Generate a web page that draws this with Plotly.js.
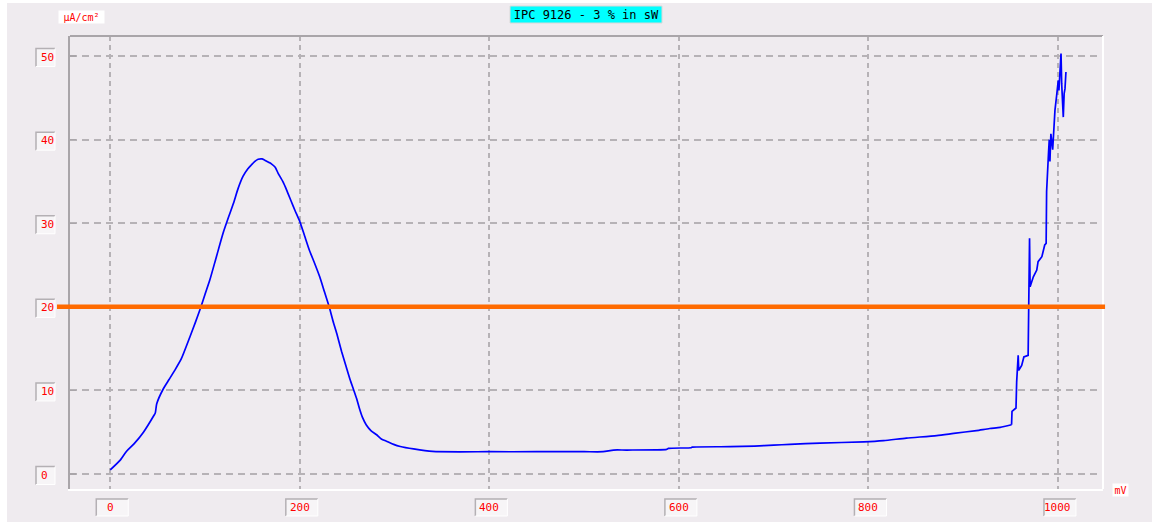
<!DOCTYPE html>
<html>
<head>
<meta charset="utf-8">
<script src="https://cdn.plot.ly/plotly-3.0.1.min.js"></script>
<style>html,body{margin:0;padding:0;background:#ffffff;}#chart{width:1165px;height:522px;}</style>
</head>
<body>
<div id="chart"></div>
<script>
// ---- data ----
// smooth part of the polarisation curve
const potentialMV = [0, 10, 17, 25, 35, 46, 47.5, 49, 56, 62, 68, 75, 84, 90, 95.7, 100, 105, 112, 119, 125, 130, 135, 140, 145, 149, 152, 156, 160, 163, 167, 170, 174, 177, 182, 186, 191, 195, 200, 205, 210, 216, 221, 226, 231, 235, 239, 244, 249, 253, 257, 260, 263, 266, 270, 275, 281, 286, 292, 299, 306, 320, 340, 400, 450, 500, 520, 531, 545, 587, 589, 613, 614, 654, 680, 700, 717, 749, 795, 816, 840, 872, 890, 914, 928, 939, 951];
const currentDensity = [0.5, 1.6, 2.7, 3.6, 5.0, 7.0, 7.3, 8.4, 10.2, 11.3, 12.4, 13.8, 16.4, 18.2, 20.0, 21.5, 23.2, 26.0, 28.8, 30.8, 32.4, 34.2, 35.6, 36.5, 37.0, 37.35, 37.65, 37.7, 37.55, 37.3, 37.1, 36.7, 36.0, 35.0, 34.0, 32.6, 31.5, 30.2, 28.5, 26.8, 25.1, 23.6, 21.8, 20.0, 18.3, 16.8, 14.7, 12.8, 11.3, 10.0, 9.0, 7.8, 6.8, 5.9, 5.2, 4.7, 4.2, 3.9, 3.55, 3.3, 3.0, 2.7, 2.67, 2.67, 2.67, 2.67, 2.87, 2.87, 2.95, 3.07, 3.15, 3.22, 3.27, 3.35, 3.45, 3.55, 3.7, 3.85, 4.0, 4.3, 4.6, 4.86, 5.2, 5.45, 5.58, 5.9];
// breakdown (pitting) part
const breakdownMV = [951, 951.5, 955.7, 956.4, 958, 958.6, 961.7, 964, 968.5, 969, 970, 970.6, 974, 977.6, 979, 983, 986, 987.5, 988, 990, 990.8, 991.5, 992.5, 994.4, 995.5, 996.8, 998.6, 1000.3, 1001, 1002, 1003.2, 1003.9, 1004.8, 1005.6, 1006.5, 1007.4, 1008.4];
const breakdownCurrent = [5.9, 7.5, 7.9, 11.0, 14.2, 12.4, 13.0, 14.0, 14.2, 22.2, 28.2, 22.4, 23.6, 24.4, 25.4, 26.0, 27.4, 27.6, 33.8, 38.4, 40.0, 37.4, 40.7, 38.8, 41.5, 43.5, 45.3, 47.1, 45.9, 48.0, 50.3, 46.7, 45.0, 42.7, 45.5, 46.1, 48.1];
const limitValue = 20;
const xTickVals = [0, 200, 400, 600, 800, 1000];
const xTickText = ['0', '200', '400', '600', '800', '1000'];
const yTickVals = [0, 10, 20, 30, 40, 50];
const yTickText = ['0', '10', '20', '30', '40', '50'];
const chartTitle = 'IPC 9126 - 3 % in sW';
const yUnit = 'µA/cm²';
const xUnit = 'mV';

// ---- styling ----
const BG = '#efebef';
const GRID = '#b6b2b6';
const AXIS = '#a9a5a9';
const RED = '#ff0000';
const MONO = 'DejaVu Sans Mono, monospace';

const shapes = [];
shapes.push({type:'rect', layer:'below', xref:'paper', yref:'paper', xsizemode:'pixel', ysizemode:'pixel',
  xanchor:0, yanchor:0, x0:-63, x1:1082, y0:-33, y1:486, fillcolor:BG, line:{width:0}});
shapes.push({type:'rect', layer:'below', xref:'paper', yref:'paper', xsizemode:'pixel', ysizemode:'pixel',
  xanchor:0, yanchor:1, x0:440, x1:592, y0:13, y1:30, fillcolor:'#00ffff', line:{color:'#d8d8d8', width:1}});
shapes.push({type:'line', layer:'above', xref:'paper', yref:'paper', x0:0, x1:1, y0:1, y1:1, line:{color:AXIS, width:2}});
shapes.push({type:'line', layer:'above', xref:'paper', yref:'paper', x0:1, x1:1, y0:0, y1:1, line:{color:'#ffffff', width:2}});

function labelBox(common, x0, x1, y0, y1) {
  shapes.push(Object.assign({type:'rect', layer:'below', x0:x0, x1:x1, y0:y0, y1:y1, fillcolor:'#f7f5f7', line:{width:0}}, common));
  shapes.push(Object.assign({type:'path', layer:'below', path:`M${x0},${y0} L${x0},${y1} L${x1},${y1}`, line:{color:'#b4b0b4', width:1.5}}, common));
  shapes.push(Object.assign({type:'path', layer:'below', path:`M${x0},${y0} L${x1},${y0} L${x1},${y1}`, line:{color:'#ffffff', width:1}}, common));
}

const annotations = [];
xTickVals.forEach((v, i) => {
  labelBox({xref:'x', yref:'paper', xsizemode:'pixel', ysizemode:'pixel', xanchor:v, yanchor:0}, -14, 18, -27, -10);
  annotations.push({xref:'x', yref:'paper', x:v, y:0, xanchor:'center', yanchor:'middle', yshift:-18.5, showarrow:false,
    text:xTickText[i], font:{family:MONO, size:11, color:RED}});
});
yTickVals.forEach((v, i) => {
  labelBox({xref:'paper', yref:'y', xsizemode:'pixel', ysizemode:'pixel', xanchor:0, yanchor:v}, -34, -15, -10.5, 7.5);
  annotations.push({xref:'paper', yref:'y', x:0, y:v, xanchor:'left', yanchor:'middle', xshift:-31, yshift:-1, showarrow:false,
    text:yTickText[i], font:{family:MONO, size:11, color:RED}});
});
shapes.push({type:'line', layer:'above', xref:'paper', yref:'y', x0:-0.0126, x1:1.002, y0:limitValue, y1:limitValue,
  line:{color:'#ff6a00', width:4.5}});

annotations.push({xref:'paper', yref:'paper', x:0, y:1, xshift:11.5, yshift:19, xanchor:'center', yanchor:'middle', showarrow:false,
  text:yUnit, width:45, height:12, bgcolor:'#ffffff', borderpad:0, font:{family:MONO, size:10, color:RED}});
annotations.push({xref:'paper', yref:'paper', x:1, y:0, xshift:17.5, yshift:-1, xanchor:'center', yanchor:'middle', showarrow:false,
  text:xUnit, width:15, height:12, bgcolor:'#ffffff', borderpad:0, font:{family:MONO, size:10, color:RED}});

const traces = [
  {x:potentialMV, y:currentDensity, type:'scatter', mode:'lines', line:{color:'#0000ff', width:1.7, shape:'spline', smoothing:0.6}, hoverinfo:'skip'},
  {x:breakdownMV, y:breakdownCurrent, type:'scatter', mode:'lines', line:{color:'#0000ff', width:1.7}, hoverinfo:'skip'}
];

const layout = {
  width:1165, height:522,
  margin:{l:70, r:62, t:36, b:33, pad:0},
  paper_bgcolor:'#ffffff', plot_bgcolor:BG,
  showlegend:false,
  title:{text:chartTitle, font:{family:MONO, size:12, color:'#000000'}, xref:'container', yref:'container',
    x:586/1165, xanchor:'center', y:1-14.8/522, yanchor:'middle'},
  xaxis:{range:[-42.5, 1047.5], tickvals:xTickVals, showticklabels:false, showgrid:true, gridcolor:GRID, gridwidth:2,
    griddash:'5px,4px', zeroline:false, showline:true, linecolor:'#ffffff', linewidth:2, ticks:''},
  yaxis:{range:[-1.79, 52.4], tickvals:yTickVals, showticklabels:false, showgrid:true, gridcolor:GRID, gridwidth:2,
    griddash:'7px,5px', zeroline:false, showline:true, linecolor:AXIS, linewidth:2, ticks:'inside', ticklen:6, tickcolor:AXIS, tickwidth:1.5},
  shapes:shapes,
  annotations:annotations
};

Plotly.newPlot('chart', traces, layout, {displayModeBar:false, staticPlot:true});
</script>
</body>
</html>
